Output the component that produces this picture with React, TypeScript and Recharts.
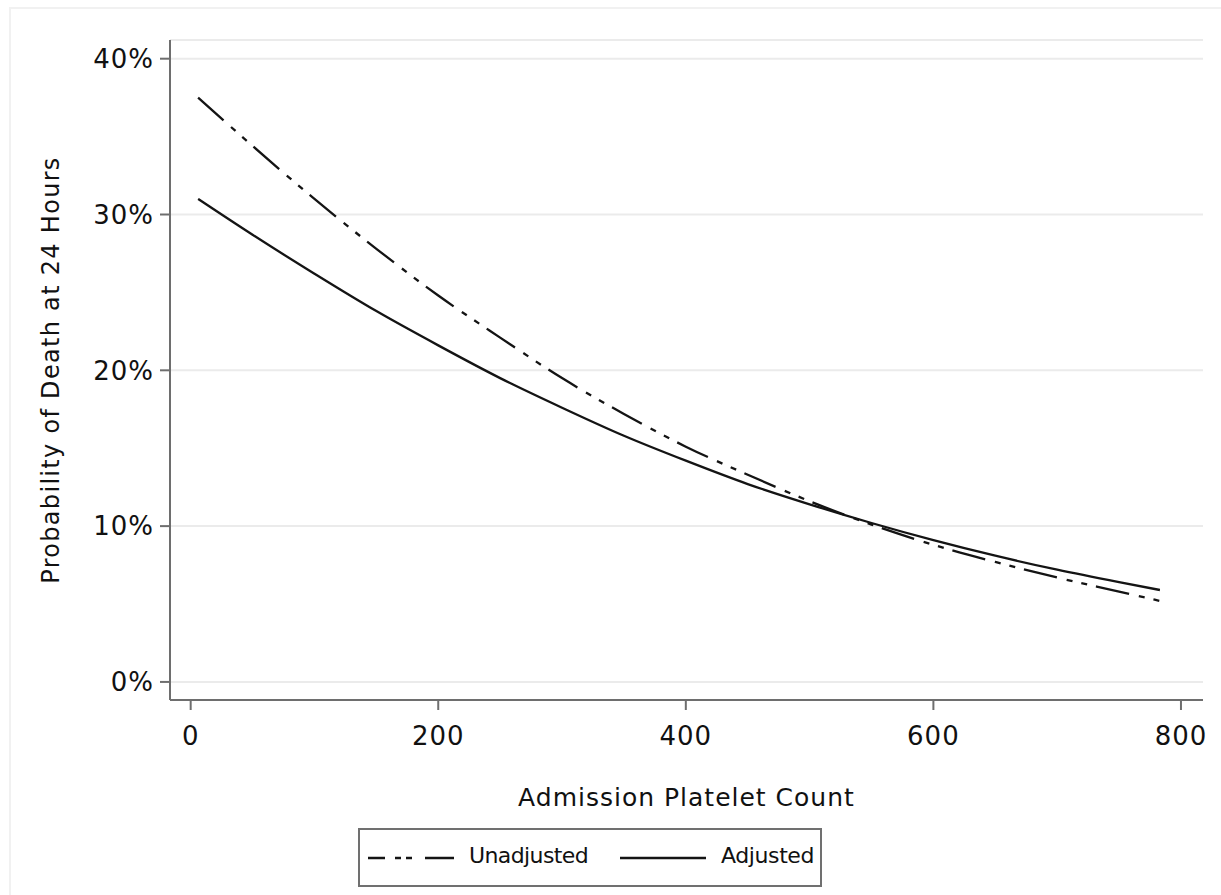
import React from "react";
import { LineChart, Line, XAxis, YAxis, CartesianGrid } from "recharts";

const platelets = [6, 50, 100, 150, 200, 250, 300, 350, 400, 450, 500, 550, 600, 650, 700, 750, 783];
const unadjusted = [37.5, 34.4, 31.0, 27.8, 24.8, 22.1, 19.5, 17.2, 15.1, 13.3, 11.6, 10.1, 8.8, 7.7, 6.7, 5.8, 5.2];
const adjusted = [31.0, 28.7, 26.2, 23.8, 21.6, 19.5, 17.6, 15.8, 14.2, 12.7, 11.4, 10.2, 9.1, 8.1, 7.2, 6.4, 5.9];
const xTicks = [0, 200, 400, 600, 800];
const yTicks = [0, 10, 20, 30, 40];
const seriesNames = ["Unadjusted", "Adjusted"];

const data = platelets.map((p, i) => ({ x: p, u: unadjusted[i], a: adjusted[i] }));

const FONT = "'DejaVu Sans', Verdana, sans-serif";
const AXIS = "#6e6e6e";
const INK = "#141414";
const DASH = "34 10 6 9 6 9";

export default function App() {
  return (
    <div style={{ position: "absolute", left: 0, top: 0, width: 1221, height: 895, background: "#fff", fontFamily: FONT }}>
      <div style={{ position: "absolute", left: 9, top: 7, width: 1212, height: 888, borderLeft: "2px solid #f1f1f1", borderTop: "2px solid #f1f1f1" }} />
      <LineChart width={1221} height={895} data={data} margin={{ top: 40, right: 18, bottom: 135, left: 50 }}>
        <CartesianGrid vertical={false} stroke="#ebebeb" strokeWidth={2} />
        <XAxis
          dataKey="x"
          type="number"
          domain={[-16.7, 817.8]}
          ticks={xTicks}
          allowDataOverflow
          height={60}
          stroke={AXIS}
          strokeWidth={2}
          tickSize={10}
          tickMargin={17}
          tick={{ fill: "#111", fontSize: 26, fontFamily: FONT, letterSpacing: 1 }}
          tickLine={{ stroke: AXIS, strokeWidth: 2 }}
          label={{
            content: (props: any) => {
              const vb = props.viewBox || {};
              return (
                <text x={vb.x + vb.width / 2} y={806} textAnchor="middle" fill="#111" fontSize={25} fontFamily={FONT} letterSpacing={1}>
                  Admission Platelet Count
                </text>
              );
            },
          }}
        />
        <YAxis
          type="number"
          domain={[-1.16, 41.2]}
          ticks={yTicks}
          allowDataOverflow
          width={120}
          stroke={AXIS}
          strokeWidth={2}
          tickSize={10}
          tickMargin={6}
          tickFormatter={(v: number) => `${v}%`}
          tick={{ fill: "#111", fontSize: 26, fontFamily: FONT, letterSpacing: 1 }}
          tickLine={{ stroke: AXIS, strokeWidth: 2 }}
          label={{
            content: (props: any) => {
              const vb = props.viewBox || {};
              const cy = vb.y + vb.height / 2;
              return (
                <text x={51} y={cy} transform={`rotate(-90 51 ${cy})`} textAnchor="middle" dominantBaseline="central" fill="#111" fontSize={24} fontFamily={FONT} letterSpacing={1.3}>
                  Probability of Death at 24 Hours
                </text>
              );
            },
          }}
        />
        <Line type="monotone" dataKey="u" name={seriesNames[0]} stroke={INK} strokeWidth={2.3} strokeDasharray={DASH} dot={false} isAnimationActive={false} />
        <Line type="monotone" dataKey="a" name={seriesNames[1]} stroke={INK} strokeWidth={2.3} dot={false} isAnimationActive={false} />
      </LineChart>
      <div style={{ position: "absolute", left: 358, top: 828, width: 464, height: 59, boxSizing: "border-box", border: "2px solid #707070", background: "#fff" }}>
        <svg width={90} height={10} style={{ position: "absolute", left: 8, top: 23 }}>
          <line x1={0} y1={5} x2={86} y2={5} stroke={INK} strokeWidth={2.3} strokeDasharray="17 10 6 5 6 13 30" />
        </svg>
        <span style={{ position: "absolute", left: 109, top: 13, fontSize: 22, letterSpacing: -0.6, color: "#111", fontFamily: FONT, whiteSpace: "nowrap" }}>{seriesNames[0]}</span>
        <svg width={90} height={10} style={{ position: "absolute", left: 260, top: 23 }}>
          <line x1={0} y1={5} x2={86} y2={5} stroke={INK} strokeWidth={2.3} />
        </svg>
        <span style={{ position: "absolute", left: 361, top: 13, fontSize: 22, letterSpacing: -0.4, color: "#111", fontFamily: FONT, whiteSpace: "nowrap" }}>{seriesNames[1]}</span>
      </div>
    </div>
  );
}
